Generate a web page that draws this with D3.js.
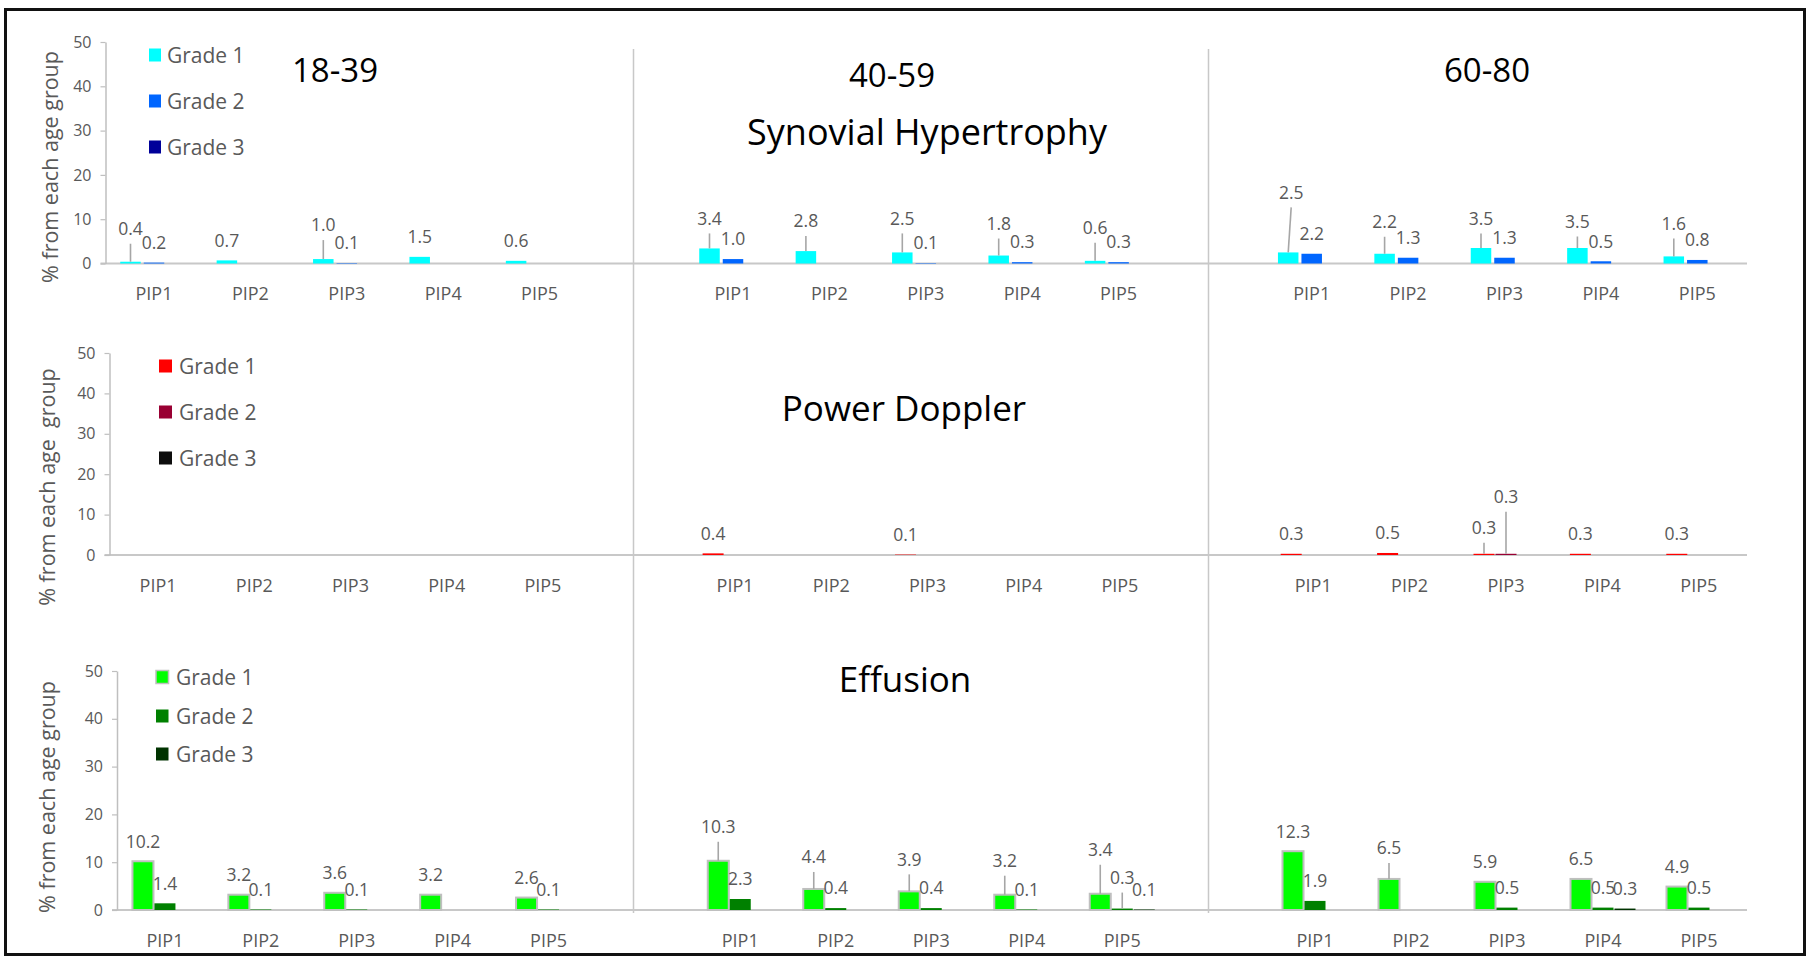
<!DOCTYPE html>
<html>
<head>
<meta charset="utf-8">
<script src="https://cdn.jsdelivr.net/npm/d3@7"></script>
<style>
  html, body { margin: 0; padding: 0; background: #fff; }
  svg { display: block; font-family: "Open Sans", sans-serif; }
</style>
</head>
<body>
<svg id="chart" width="1809" height="961"></svg>
<script>
// ---------- data ----------
const measures = ["Synovial Hypertrophy", "Power Doppler", "Effusion"];
const ageGroups = ["18-39", "40-59", "60-80"];
const joints = ["PIP1", "PIP2", "PIP3", "PIP4", "PIP5"];
const grades = ["Grade 1", "Grade 2", "Grade 3"];
const yTicks = [0, 10, 20, 30, 40, 50];
const yAxisTitles = ["% from each age group", "% from each age  group", "% from each age group"];

// one row per age group, one entry per joint (null = not observed)
const synovialGrade1 = [[0.4, 0.7, 1.0, 1.5, 0.6], [3.4, 2.8, 2.5, 1.8, 0.6], [2.5, 2.2, 3.5, 3.5, 1.6]];
const synovialGrade2 = [[0.2, null, 0.1, null, null], [1.0, null, 0.1, 0.3, 0.3], [2.2, 1.3, 1.3, 0.5, 0.8]];
const synovialGrade3 = [[null, null, null, null, null], [null, null, null, null, null], [null, null, null, null, null]];

const dopplerGrade1 = [[null, null, null, null, null], [0.4, null, 0.1, null, null], [0.3, 0.5, 0.3, 0.3, 0.3]];
const dopplerGrade2 = [[null, null, null, null, null], [null, null, null, null, null], [null, null, 0.3, null, null]];
const dopplerGrade3 = [[null, null, null, null, null], [null, null, null, null, null], [null, null, null, null, null]];

const effusionGrade1 = [[10.2, 3.2, 3.6, 3.2, 2.6], [10.3, 4.4, 3.9, 3.2, 3.4], [12.3, 6.5, 5.9, 6.5, 4.9]];
const effusionGrade2 = [[1.4, 0.1, 0.1, null, 0.1], [2.3, 0.4, 0.4, 0.1, 0.3], [1.9, null, 0.5, 0.5, 0.5]];
const effusionGrade3 = [[null, null, null, null, null], [null, null, null, null, 0.1], [null, null, null, 0.3, null]];

const synovialColors = ["#00ffff", "#0066ff", "#000099"];
const dopplerColors = ["#ff0000", "#990033", "#0d0d0d"];
const effusionColors = ["#00ff00", "#008000", "#003300"];

const seriesByMeasure = [
  [synovialGrade1, synovialGrade2, synovialGrade3],
  [dopplerGrade1, dopplerGrade2, dopplerGrade3],
  [effusionGrade1, effusionGrade2, effusionGrade3]
];
const colorsByMeasure = [synovialColors, dopplerColors, effusionColors];

// ---------- layout ----------
const rowLayout = [
  { y50: 42, y0: 263.5, axisX: 105.5,
    cols: [[105.8, 587.8], [684.8, 1166.8], [1263.5, 1745.5]],
    barW: 20.5, step: 23.5,
    keyX: 149, keyW: 12, keyH: 13, textX: 167, legendY: [55, 101, 147],
    yTitle: [50, 167], title: [927, 145, 36], g1Stroke: null },
  { y50: 353, y0: 555, axisX: 109.5,
    cols: [[110, 591], [687, 1168], [1265, 1747]],
    barW: 21, step: 22,
    keyX: 159, keyW: 13, keyH: 13, textX: 179, legendY: [366, 412, 458],
    yTitle: [47, 487], title: [904, 421, 35], g1Stroke: null },
  { y50: 671, y0: 910, axisX: 117,
    cols: [[117, 596.5], [692.5, 1170], [1267, 1747]],
    barW: 21, step: 22,
    keyX: 156, keyW: 12.5, keyH: 13, textX: 176, legendY: [677, 716, 754],
    yTitle: [47, 797], title: [905, 692, 35], g1Stroke: "#bfbfbf" }
];
const agePos = [[335, 82], [892, 87], [1487, 82]];
const dividerX = [633.5, 1208.5];
const baselineEnd = 1747;

// labels moved up from their default spot (px), keyed row-col-joint-grade
const labelLift = {
  "0-0-0-0": 13, "0-0-2-0": 14,
  "0-1-0-0": 10, "0-1-1-0": 10, "0-1-2-0": 14, "0-1-3-0": 12, "0-1-4-0": 13,
  "0-2-0-0": 40, "0-2-1-0": 12, "0-2-2-0": 9.5, "0-2-3-0": 6.5, "0-2-4-0": 13,
  "1-2-2-0": 6, "1-2-2-1": 37,
  "2-1-0-0": 14, "2-1-1-0": 12, "2-1-2-0": 12, "2-1-3-0": 14, "2-1-4-0": 24, "2-1-4-1": 11,
  "2-2-1-0": 11
};
const labelShift = { "0-2-0-0": 3 };

const grey = "#595959";
const fmt = d3.format(".1f");
const svg = d3.select("#chart");

// panel dividers
svg.selectAll("line.divider").data(dividerX).join("line")
  .attr("class", "divider")
  .attr("x1", d => d).attr("x2", d => d)
  .attr("y1", 49).attr("y2", 913)
  .attr("stroke", "#c8c8c8").attr("stroke-width", 1.5);

rowLayout.forEach((L, r) => {
  const y = d3.scaleLinear().domain([0, 50]).range([L.y0, L.y50]);
  const g = svg.append("g");

  // continuous category baseline
  g.append("line")
    .attr("x1", L.axisX - 5).attr("x2", baselineEnd)
    .attr("y1", y(0)).attr("y2", y(0))
    .attr("stroke", "#c8c8c8").attr("stroke-width", 2);

  // value axis on the first panel
  const ya = g.append("g").attr("transform", `translate(${L.axisX},0)`)
    .call(d3.axisLeft(y).tickValues(yTicks).tickSize(5).tickSizeOuter(0).tickPadding(9));
  ya.select(".domain").attr("stroke", "#bfbfbf").attr("stroke-width", 1.5);
  ya.selectAll(".tick line").attr("stroke", "#bfbfbf").attr("stroke-width", 1.2);
  ya.selectAll(".tick text").attr("fill", grey).attr("font-size", 16)
    .attr("font-family", "Open Sans");

  // y axis title
  g.append("text")
    .attr("transform", `translate(${L.yTitle[0]},${L.yTitle[1]}) rotate(-90)`)
    .attr("text-anchor", "middle").attr("dy", "0.35em")
    .attr("font-size", 21.5).attr("fill", grey)
    .style("white-space", "pre")
    .text(yAxisTitles[r]);

  const series = seriesByMeasure[r];
  const colors = colorsByMeasure[r];

  L.cols.forEach((range, c) => {
    const x = d3.scaleBand().domain(joints).range(range);
    const cx = j => x(j) + x.bandwidth() / 2;

    // category labels
    const xa = g.append("g").attr("transform", `translate(0,${y(0)})`)
      .call(d3.axisBottom(x).tickSize(0).tickPadding(0));
    xa.select(".domain").remove();
    xa.selectAll(".tick text")
      .attr("dy", null).attr("y", 36.5)
      .attr("fill", grey).attr("font-size", 18).attr("font-family", "Open Sans");

    // bars, leaders and value labels
    const items = [];
    series.forEach((s, gi) => {
      s[c].forEach((v, ji) => {
        if (v === null) return;
        items.push({ v, gi, ji, key: `${r}-${c}-${ji}-${gi}` });
      });
    });
    const barX = d => cx(joints[d.ji]) + (d.gi - 1) * L.step;

    g.append("g").selectAll("rect").data(items).join("rect")
      .attr("x", d => barX(d) - L.barW / 2)
      .attr("y", d => y(d.v))
      .attr("width", L.barW)
      .attr("height", d => y(0) - y(d.v))
      .attr("fill", d => colors[d.gi])
      .attr("stroke", d => (d.gi === 0 && L.g1Stroke) ? L.g1Stroke : "none")
      .attr("stroke-width", 2);

    const labelX = d => barX(d) + (labelShift[d.key] || 0);
    const labelCY = d => y(d.v) - 20 - (labelLift[d.key] || 0);

    g.append("g").selectAll("line").data(items.filter(d => labelLift[d.key]))
      .join("line")
      .attr("x1", d => labelX(d)).attr("y1", d => labelCY(d) + 15)
      .attr("x2", d => barX(d)).attr("y2", d => y(d.v))
      .attr("stroke", "#a6a6a6").attr("stroke-width", 1.6);

    g.append("g").selectAll("text").data(items).join("text")
      .attr("x", d => labelX(d))
      .attr("y", d => labelCY(d) + 6.3)
      .attr("text-anchor", "middle")
      .attr("font-size", 17.5).attr("fill", grey)
      .text(d => fmt(d.v));
  });

  // legend
  const lg = g.append("g");
  grades.forEach((gr, gi) => {
    lg.append("rect")
      .attr("x", L.keyX).attr("y", L.legendY[gi] - L.keyH / 2)
      .attr("width", L.keyW).attr("height", L.keyH)
      .attr("fill", colors[gi])
      .attr("stroke", (gi === 0 && L.g1Stroke) ? L.g1Stroke : "none")
      .attr("stroke-width", 1.5);
    lg.append("text")
      .attr("x", L.textX).attr("y", L.legendY[gi]).attr("dy", "0.36em")
      .attr("font-size", 21).attr("fill", grey)
      .text(gr);
  });

  // measure title
  g.append("text")
    .attr("x", L.title[0]).attr("y", L.title[1])
    .attr("text-anchor", "middle")
    .attr("font-size", L.title[2]).attr("fill", "#000")
    .text(measures[r]);
});

// age group headings
svg.append("g").selectAll("text").data(ageGroups).join("text")
  .attr("x", (d, i) => agePos[i][0]).attr("y", (d, i) => agePos[i][1])
  .attr("text-anchor", "middle")
  .attr("font-size", 33).attr("fill", "#000")
  .text(d => d);

// outer frame
svg.append("rect")
  .attr("x", 5.5).attr("y", 9.5).attr("width", 1799).attr("height", 945)
  .attr("fill", "none").attr("stroke", "#111").attr("stroke-width", 3);
</script>
</body>
</html>
